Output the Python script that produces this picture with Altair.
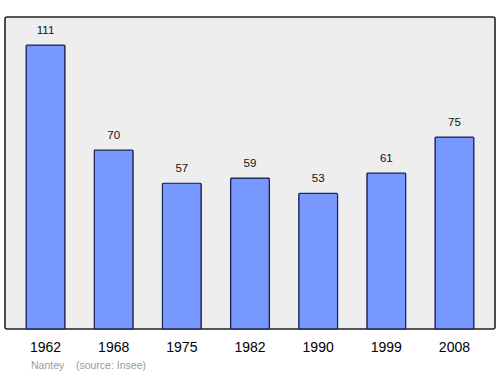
import altair as alt
import pandas as pd

years = ["1962", "1968", "1975", "1982", "1990", "1999", "2008"]
population = [111, 70, 57, 59, 53, 61, 75]

df = pd.DataFrame({"year": years, "pop": population})

x = alt.X("year:N", sort=years,
          scale=alt.Scale(paddingInner=0.43, paddingOuter=0.31),
          axis=alt.Axis(title=None, labelAngle=0, ticks=False, domain=False,
                        labelFontSize=14, labelFont="Liberation Sans",
                        labelColor="#000", labelPadding=11))
y = alt.Y("pop:Q", scale=alt.Scale(domain=[0, 122], nice=False),
          axis=None)

bars = alt.Chart(df).mark_bar(color="#7799ff", stroke="#1c2452",
                              strokeWidth=1.2, cornerRadius=1).encode(x=x, y=y)
labels = alt.Chart(df).mark_text(dy=-14, fontSize=11.5, font="Liberation Sans",
                                 fontWeight="normal",
                                 color="#111").encode(x=x, y=y, text="pop:Q")

chart = (bars + labels).properties(
    width=490, height=312,
    background="white",
    title=alt.TitleParams("Nantey\u00a0\u00a0\u00a0\u00a0(source: Insee)", orient="bottom",
                          anchor="start", fontSize=10.5, fontWeight="normal",
                          font="Liberation Sans", color="#999999",
                          offset=7, dx=26),
    padding={"left": 5, "top": 17, "right": 5, "bottom": 45},
    autosize=alt.AutoSizeParams(type="none"),
).configure_view(
    fill="#eeeeee", stroke="#222222", strokeWidth=1.6, cornerRadius=2
)

chart.save("out.html", embed_options={"renderer": "svg", "actions": False})
